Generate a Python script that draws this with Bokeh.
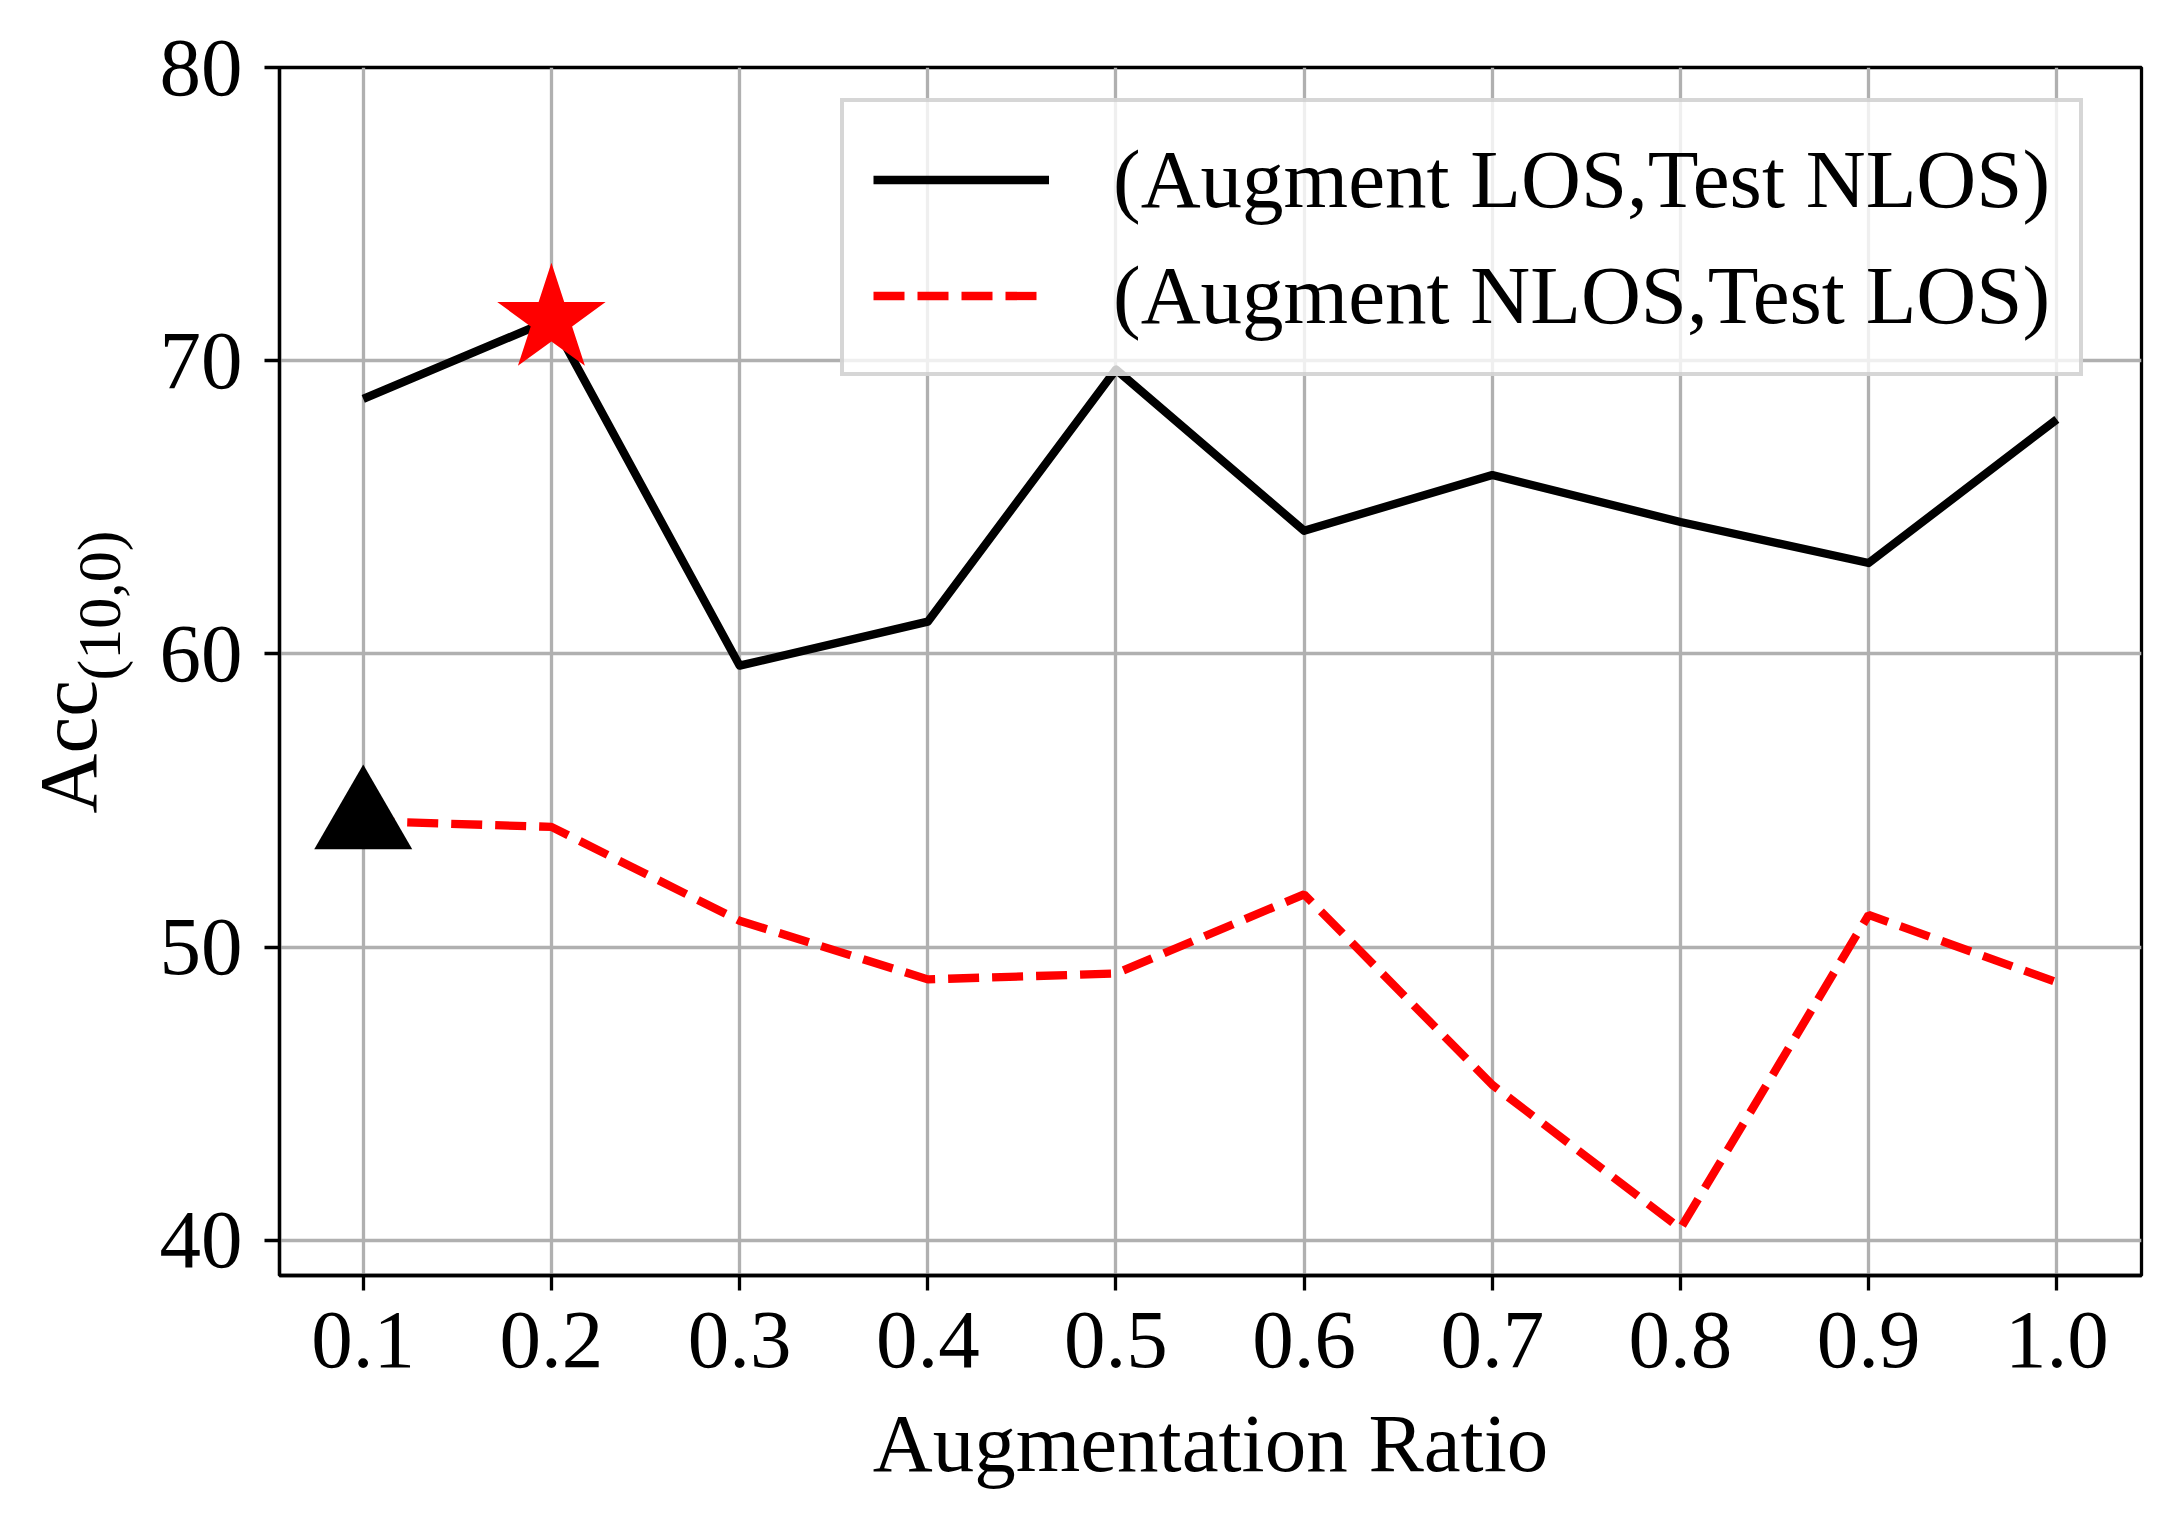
import math
from bokeh.plotting import figure
from bokeh.layouts import row
from bokeh.models import Legend, LegendItem, FixedTicker, Range1d
from bokeh.core.properties import value
from bokeh.embed import file_html
from bokeh.resources import INLINE

# ---- data ----
ratio = [0.1, 0.2, 0.3, 0.4, 0.5, 0.6, 0.7, 0.8, 0.9, 1.0]
acc_aug_los_test_nlos = [68.7, 71.4, 59.6, 61.1, 69.7, 64.2, 66.1, 64.5, 63.1, 68.0]
acc_aug_nlos_test_los = [54.3, 54.1, 50.9, 48.9, 49.1, 51.8, 45.3, 40.4, 51.1, 48.8]
series_labels = ["(Augment LOS,Test NLOS)", "(Augment NLOS,Test LOS)"]
x_ticks = [0.1, 0.2, 0.3, 0.4, 0.5, 0.6, 0.7, 0.8, 0.9, 1.0]
x_tick_labels = ["0.1", "0.2", "0.3", "0.4", "0.5", "0.6", "0.7", "0.8", "0.9", "1.0"]
y_ticks = [40, 50, 60, 70, 80]
y_tick_labels = ["40", "50", "60", "70", "80"]
x_title = "Augmentation Ratio"
y_title_main = "Acc"
y_title_sub = "(10,0)"

FONT = "Liberation Serif"
FS = "83px"
H = 1511
TOP, BOTTOM = 67, 236
FH = H - TOP - BOTTOM
LW = 150  # width of the strip holding the y-axis title

p = figure(width=2166 - LW, height=H, output_backend="svg", toolbar_location=None,
           x_range=Range1d(0.0555, 1.045), y_range=Range1d(38.8, 80.0),
           min_border_left=279 - LW, min_border_right=25, min_border_top=TOP, min_border_bottom=BOTTOM)
p.background_fill_color = "white"
p.border_fill_color = "white"
p.outline_line_color = "black"
p.outline_line_width = 3.3

for g in (p.xgrid, p.ygrid):
    g.grid_line_color = "#b0b0b0"
    g.grid_line_width = 3.3

p.xaxis.ticker = FixedTicker(ticks=x_ticks)
p.xaxis.major_label_overrides = {t: l for t, l in zip(x_ticks, x_tick_labels)}
p.yaxis.ticker = FixedTicker(ticks=y_ticks)
p.yaxis.major_label_overrides = {t: l for t, l in zip(y_ticks, y_tick_labels)}
for ax in (p.xaxis, p.yaxis):
    ax.axis_line_color = "black"
    ax.axis_line_width = 3.3
    ax.major_tick_line_color = "black"
    ax.major_tick_line_width = 3.3
    ax.major_tick_out = 15
    ax.major_tick_in = 0
    ax.minor_tick_line_color = None
    ax.major_label_text_font = FONT
    ax.major_label_text_font_size = FS
    ax.major_label_text_color = "black"
    ax.axis_label_text_font = FONT
    ax.axis_label_text_font_size = FS
    ax.axis_label_text_font_style = "normal"
    ax.axis_label_text_color = "black"
p.xaxis.major_label_standoff = 22
p.yaxis.major_label_standoff = 22
p.xaxis.axis_label = x_title
p.xaxis.axis_label_standoff = 27

r1 = p.line(ratio, acc_aug_los_test_nlos, line_color="black", line_width=8.3, line_join="round")
r2 = p.line(ratio, acc_aug_nlos_test_los, line_color="#ff0000", line_width=8.3, line_dash="31 13")

i1 = acc_aug_los_test_nlos.index(max(acc_aug_los_test_nlos))
i2 = acc_aug_nlos_test_los.index(max(acc_aug_nlos_test_los))
p.scatter([ratio[i1]], [acc_aug_los_test_nlos[i1]], marker="star", size=114,
          fill_color="#ff0000", line_color="#ff0000", line_width=0)
p.scatter([ratio[i2]], [acc_aug_nlos_test_los[i2]], marker="triangle", size=98,
          fill_color="black", line_color="black", line_width=0)

legend = Legend(items=[LegendItem(label=series_labels[0], renderers=[r1]),
                       LegendItem(label=series_labels[1], renderers=[r2])],
                location=(561, 899))
legend.label_text_font = FONT
legend.label_text_font_size = FS
legend.label_text_color = "black"
legend.glyph_width = 176
legend.glyph_height = 95
legend.label_height = 95
legend.label_standoff = 64
legend.spacing = 20
legend.padding = 29
legend.margin = 0
legend.border_line_color = "#cccccc"
legend.border_line_width = 4
legend.border_line_alpha = 0.8
legend.background_fill_color = "white"
legend.background_fill_alpha = 0.8
p.add_layout(legend)

# strip with the rotated y-axis title: Acc with subscript (10,0)
ylab = figure(frame_width=LW, frame_height=FH, output_backend="svg", toolbar_location=None,
              x_range=Range1d(0, LW), y_range=Range1d(BOTTOM, H - TOP),
              x_axis_type=None, y_axis_type=None,
              min_border_left=0, min_border_right=0, min_border_top=TOP, min_border_bottom=BOTTOM)
ylab.grid.visible = False
ylab.outline_line_color = None
ylab.background_fill_color = "white"
ylab.border_fill_color = "white"
ylab.text(x=[67], y=[H - 813], text=[y_title_main], angle=math.pi / 2,
          text_font=value(FONT), text_font_size=value("83px"), text_color="black",
          text_align="left", text_baseline="alphabetic")
ylab.text(x=[98], y=[H - 680], text=[y_title_sub], angle=math.pi / 2,
          text_font=value(FONT), text_font_size=value("62px"), text_color="black",
          text_align="left", text_baseline="alphabetic")

layout = row(ylab, p)
open("out.html", "w").write(file_html(layout, INLINE))
